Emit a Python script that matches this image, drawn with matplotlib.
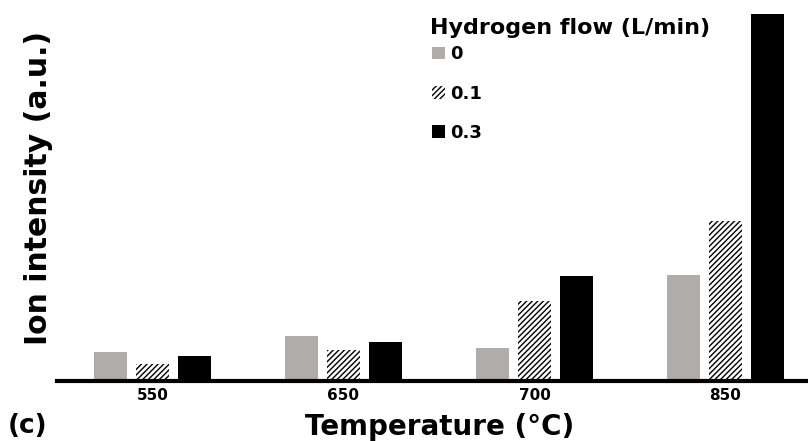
import matplotlib
matplotlib.use("Agg")
import matplotlib.pyplot as plt
import numpy as np

plt.rcParams['font.family'] = ['DejaVu Sans']
plt.rcParams['font.weight'] = 'bold'
plt.rcParams['hatch.linewidth'] = 1.0

temps = ["550", "650", "700", "850"]
flows = ["0", "0.1", "0.3"]
flow_0 = [29, 45, 33, 106]
flow_01 = [17, 31, 80, 160]
flow_03 = [25, 39, 105, 367]

fig = plt.figure(figsize=(8.08, 4.41), dpi=100)
ax = fig.add_axes([57 / 808, 60 / 441, 764 / 808, 367 / 441])

x = np.arange(len(temps))
w = 0.173
off = 0.22
ax.bar(x - off, flow_0, w, color="#afacaa", label=flows[0])
ax.bar(x, flow_01, w, color="white", edgecolor="black", hatch="//////", linewidth=0, label=flows[1])
ax.bar(x + off, flow_03, w, color="black", label=flows[2])

ax.set_xlim(-0.5, 3.5)
ax.set_ylim(0, 367)
ax.set_xticks(x)
ax.set_xticklabels(temps, fontsize=11, fontweight='bold')
ax.tick_params(axis='x', length=0, pad=5)
ax.set_yticks([])
for s in ["top", "right", "left"]:
    ax.spines[s].set_visible(False)
ax.spines["bottom"].set_linewidth(3)

ax.set_xlabel("Temperature (°C)", fontsize=20, fontweight='bold')
ax.xaxis.set_label_coords((440 - 57) / 764, -32 / 367)
ax.set_ylabel("Ion intensity (a.u.)", fontsize=21.5, fontweight='bold')
ax.yaxis.set_label_coords(-4 / 764, (381 - 188) / 367)

fig.text(8 / 808, 2 / 441, "(c)", fontsize=19, fontweight='bold', ha='left', va='bottom')

# legend title drawn separately so the entries can sit close under it
fig.text(430 / 808, 1 - 28 / 441, "Hydrogen flow (L/min)", fontsize=16, fontweight='bold',
         ha='left', va='center')
ax.legend(loc='upper left', bbox_to_anchor=(418 / 808, 1 - 31 / 441), bbox_transform=fig.transFigure,
          frameon=False, prop={'size': 13, 'weight': 'bold'},
          handlelength=0.7, handleheight=0.7, handletextpad=0.3, labelspacing=1.17,
          borderpad=0.3)

fig.savefig("out.png", dpi=100)
